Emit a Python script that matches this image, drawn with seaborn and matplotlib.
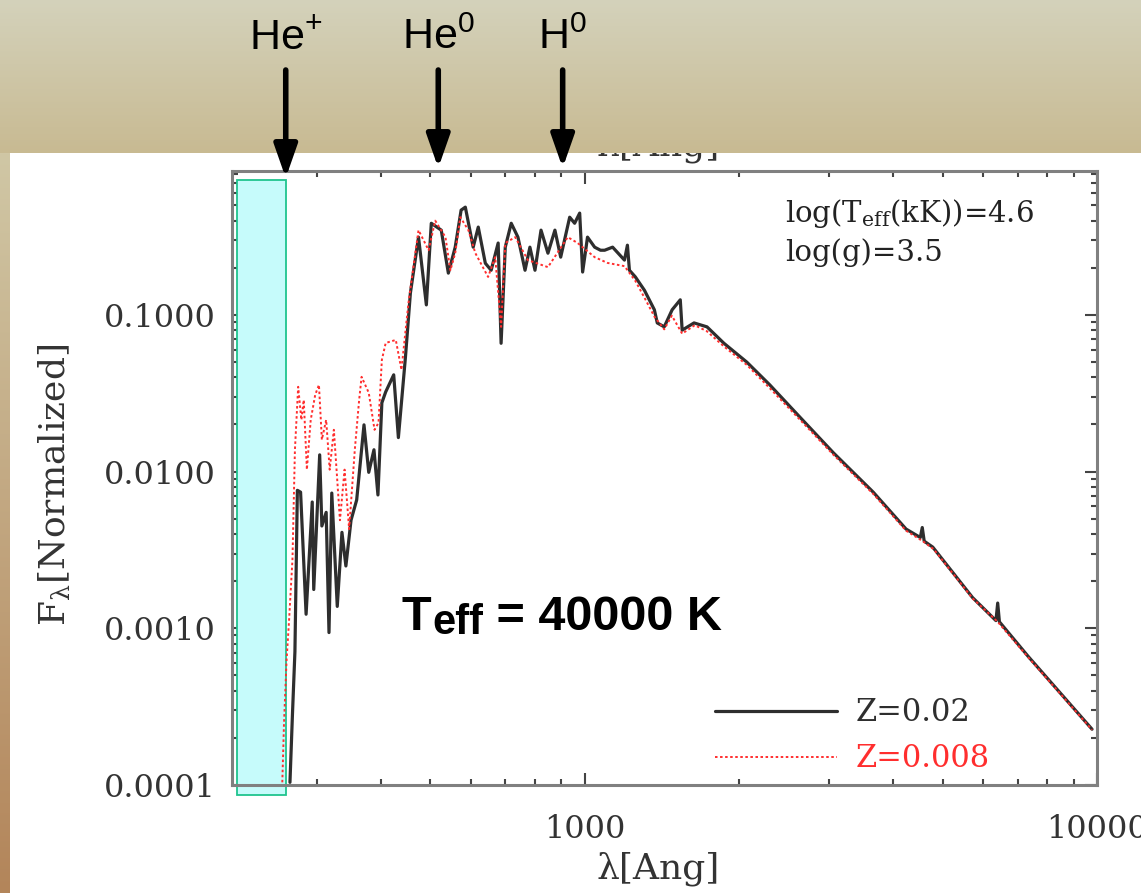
import numpy as np
import pandas as pd
import matplotlib
matplotlib.use("Agg")
import matplotlib.pyplot as plt
import matplotlib.transforms as mtransforms
from matplotlib.colors import LinearSegmentedColormap
from matplotlib.ticker import FixedLocator, FuncFormatter, NullFormatter, LogLocator
import seaborn as sns

# ---------------- data ----------------
series_labels = ["Z=0.02", "Z=0.008"]

wave_z02 = [266, 269, 272, 275, 279, 286, 294, 296, 304, 307, 313, 317, 321, 329,
            336, 342, 350, 359, 371, 379, 388, 395, 402, 409, 424, 433, 443, 447,
            457, 474, 491, 502, 525, 542, 559, 574, 585, 606, 620, 640, 657, 678,
            687, 700, 719, 741, 765, 782, 800, 822, 848, 875, 898, 935, 956, 978,
            991, 1013, 1046, 1074, 1094, 1134, 1196, 1212, 1223, 1256, 1308, 1368,
            1386, 1430, 1482, 1537, 1550, 1635, 1733, 1870, 2073, 2298, 2627, 3058,
            3658, 4240, 4520, 4560, 4600, 4780, 5718, 6350, 6400, 6450, 7345, 9780]
flux_z02 = [1.04e-4, 2.83e-4, 7.1e-4, 7.6e-3, 7.4e-3, 1.23e-3, 6.4e-3, 1.77e-3,
            1.28e-2, 4.5e-3, 5.5e-3, 9.4e-4, 7.3e-3, 1.38e-3, 4.1e-3, 2.5e-3,
            4.9e-3, 6.6e-3, 1.99e-2, 9.9e-3, 1.38e-2, 7.1e-3, 2.75e-2, 3.23e-2,
            4.15e-2, 1.65e-2, 3.86e-2, 5.4e-2, 0.138, 0.314, 0.116, 0.385, 0.348,
            0.185, 0.271, 0.467, 0.488, 0.271, 0.364, 0.214, 0.193, 0.288, 0.066,
            0.271, 0.385, 0.314, 0.193, 0.271, 0.193, 0.348, 0.248, 0.348, 0.234,
            0.421, 0.385, 0.447, 0.188, 0.314, 0.271, 0.259, 0.259, 0.271, 0.224,
            0.279, 0.193, 0.175, 0.144, 0.108, 0.089, 0.084, 0.108, 0.125, 0.080,
            0.089, 0.084, 0.066, 0.050, 0.0358, 0.0224, 0.0132, 0.0074, 0.0043,
            0.0038, 0.0044, 0.0036, 0.0033, 0.00157, 0.00112, 0.00145, 0.00110,
            0.00066, 0.000227]

wave_z008 = [257, 259, 262, 265, 269, 272, 276, 280, 283, 287, 292, 298, 303, 307,
             313, 318, 324, 333, 340, 347, 356, 363, 367, 379, 389, 396, 402, 409,
             428, 439, 453, 474, 496, 511, 535, 547, 559, 572, 593, 612, 648, 669,
             687, 700, 732, 775, 848, 927, 969, 1046, 1108, 1196, 1256, 1310, 1370,
             1430, 1480, 1550, 1640, 1730, 1870, 2073, 2300, 2630, 3060, 3660, 4240,
             4570, 4800, 5720, 6400, 7350, 9780]
flux_z008 = [1.04e-4, 2.5e-4, 6.3e-4, 1.14e-3, 2.75e-3, 1.38e-2, 3.48e-2, 2.14e-2,
             2.87e-2, 1.03e-2, 2.14e-2, 3.1e-2, 3.58e-2, 1.6e-2, 2.14e-2, 1.03e-2,
             1.85e-2, 4.9e-3, 1.03e-2, 4.3e-3, 1.38e-2, 2.87e-2, 4.03e-2, 3.19e-2,
             1.85e-2, 2.05e-2, 5.17e-2, 6.63e-2, 6.93e-2, 4.47e-2, 0.119, 0.348,
             0.259, 0.40, 0.314, 0.193, 0.248, 0.421, 0.348, 0.248, 0.175, 0.234,
             0.084, 0.288, 0.314, 0.224, 0.202, 0.314, 0.288, 0.234, 0.215, 0.205,
             0.165, 0.128, 0.097, 0.081, 0.099, 0.076, 0.086, 0.079, 0.063, 0.048,
             0.034, 0.0215, 0.0128, 0.0072, 0.0042, 0.0036, 0.0032, 0.00155,
             0.00110, 0.00065, 0.000225]

x_ticks = [1000, 10000]
y_ticks = [0.0001, 0.001, 0.01, 0.1]
edge_wavelengths = [261, 518, 906]
edge_labels = ["He$^{+}$", "He$^{0}$", "H$^{0}$"]
shade_range = [210, 261]

# ---------------- style ----------------
sns.set_theme(style="ticks")
plt.rcParams["font.family"] = ["DejaVu Serif"]
plt.rcParams["mathtext.fontset"] = "custom"
plt.rcParams["mathtext.rm"] = "Liberation Sans"
plt.rcParams["mathtext.it"] = "Liberation Sans:italic"
plt.rcParams["mathtext.bf"] = "Liberation Sans:bold"

W, H = 1141, 893
fig = plt.figure(figsize=(W / 100, H / 100), dpi=100)
fig.patch.set_facecolor("white")

# slide background: left vertical strip
bg = fig.add_axes([0, 0, 1, 1], zorder=0)
bg.set_axis_off()
strip_cmap = LinearSegmentedColormap.from_list("strip", ["#b3855a", "#d0c7a5"])
bg.imshow(np.linspace(0, 1, 256).reshape(-1, 1), cmap=strip_cmap, origin="lower",
          extent=(0, 10 / W, 0, 1 - 153 / H), aspect="auto")
bg.set_xlim(0, 1)
bg.set_ylim(0, 1)

# main axes
ax = fig.add_axes([232 / W, 1 - 785 / H, 865 / W, 614 / H], zorder=2)
ax.set_xscale("log")
ax.set_yscale("log")

df = pd.concat([
    pd.DataFrame({"wavelength": wave_z02, "flux": flux_z02, "model": series_labels[0]}),
    pd.DataFrame({"wavelength": wave_z008, "flux": flux_z008, "model": series_labels[1]}),
], ignore_index=True)

palette = {series_labels[0]: "#2e2e2e", series_labels[1]: "#ff2e2e"}
dashes = {series_labels[0]: "", series_labels[1]: (1.3, 1.3)}
sns.lineplot(data=df, x="wavelength", y="flux", hue="model", style="model",
             palette=palette, dashes=dashes, estimator=None, sort=False,
             legend=False, ax=ax)
ax.lines[0].set_linewidth(2.3)
ax.lines[1].set_linewidth(1.4)

ax.axvspan(shade_range[0], shade_range[1], ymin=-0.016, ymax=0.985,
           facecolor="#c6fbfb", edgecolor="#1fc48e", linewidth=1.3,
           zorder=1, clip_on=False)

ax.set_xlim(205, 10000)
ax.set_ylim(1e-4, 0.83)

ax.xaxis.set_major_locator(FixedLocator(x_ticks))
ax.xaxis.set_major_formatter(FuncFormatter(lambda v, p: f"{v:.0f}"))
ax.xaxis.set_minor_locator(LogLocator(base=10, subs=np.arange(2, 10), numticks=50))
ax.xaxis.set_minor_formatter(NullFormatter())
ax.yaxis.set_major_locator(FixedLocator(y_ticks))
ax.yaxis.set_major_formatter(FuncFormatter(lambda v, p: f"{v:.4f}"))
ax.yaxis.set_minor_locator(LogLocator(base=10, subs=np.arange(2, 10), numticks=50))
ax.yaxis.set_minor_formatter(NullFormatter())

ax.tick_params(which="both", direction="in", top=True, right=True,
               color="#444444", width=1.5, labelcolor="#333333", labelsize=23)
ax.tick_params(which="major", length=9)
ax.tick_params(which="minor", length=4.5)
ax.tick_params(axis="x", which="major", pad=21)
ax.tick_params(axis="y", which="major", pad=12)
for s in ax.spines.values():
    s.set_color("#808080")
    s.set_linewidth(2.2)

ax.set_xlabel("λ[Ang]", fontsize=26, color="#333333", va="center")
ax.xaxis.set_label_coords(0.4925, -0.137)
ax.set_ylabel(r"F$_{\mathrm{\lambda}}$[Normalized]", fontsize=26, color="#333333",
              va="center", math_fontfamily="dejavuserif")
ax.yaxis.set_label_coords(-0.2046, 0.4886)

# upper x label of the original plot (partly hidden by the slide band)
ax.text(0.4925, 1.041, "λ[Ang]", transform=ax.transAxes, ha="center", va="center",
        fontsize=26, color="#333333")

# model parameters
ax.text(0.639, 0.917, r"log(T$_{\mathregular{eff}}$(kK))=4.6", transform=ax.transAxes,
        fontsize=21, color="#222222", va="baseline", ha="left",
        math_fontfamily="dejavuserif")
ax.text(0.639, 0.853, "log(g)=3.5", transform=ax.transAxes,
        fontsize=21, color="#222222", va="baseline", ha="left")

# big Teff label
base_y = 0.2524
t1 = ax.text(0.1965, base_y, "T", transform=ax.transAxes, fontsize=35,
             fontweight="bold", family="Liberation Sans", va="baseline", ha="left",
             color="black")
t2 = ax.annotate("eff", xy=(1, base_y), xycoords=(t1, ax.transAxes),
                 xytext=(1, -4), textcoords="offset pixels", fontsize=30,
                 fontweight="bold", family="Liberation Sans", va="baseline",
                 ha="left", color="black")
ax.annotate(" = 40000 K", xy=(1, base_y), xycoords=(t2, ax.transAxes),
            xytext=(0, 0), textcoords="offset pixels", fontsize=35,
            fontweight="bold", family="Liberation Sans", va="baseline",
            ha="left", color="black")

# legend
ax.legend(handles=ax.lines[:2], labels=series_labels, loc="upper left",
          bbox_to_anchor=(0.558, 0.143), frameon=False, handlelength=4.0,
          handletextpad=0.6, labelspacing=0.5, borderpad=0, borderaxespad=0,
          labelcolor="linecolor", prop={"family": "DejaVu Serif", "size": 22})

# slide overlay: top band, arrows and ion labels
ov = fig.add_axes([0, 0, 1, 1], zorder=3)
ov.set_axis_off()
band_cmap = LinearSegmentedColormap.from_list("band", ["#c8ba92", "#d4d2bb"])
ov.imshow(np.linspace(0, 1, 256).reshape(-1, 1), cmap=band_cmap, origin="lower",
          extent=(0, 1, 1 - 153 / H, 1), aspect="auto")
ov.set_xlim(0, 1)
ov.set_ylim(0, 1)

arrow_tf = mtransforms.blended_transform_factory(ax.transData, fig.transFigure)
tips = [1 - 178 / H, 1 - 168 / H, 1 - 168 / H]
for wl, lab, tip in zip(edge_wavelengths, edge_labels, tips):
    ov.annotate("", xy=(wl, tip), xycoords=arrow_tf,
                xytext=(wl, 1 - 70 / H), textcoords=arrow_tf,
                arrowprops=dict(arrowstyle="-|>,head_length=2.0,head_width=0.7",
                                lw=4, color="black", mutation_scale=10,
                                shrinkA=0, shrinkB=0))
    ov.text(wl, 1 - 38 / H, lab, transform=arrow_tf, ha="center", va="center",
            fontsize=31, family=["Liberation Sans Narrow", "Liberation Sans"],
            math_fontfamily="custom", color="black")

fig.savefig("out.png", dpi=100)
